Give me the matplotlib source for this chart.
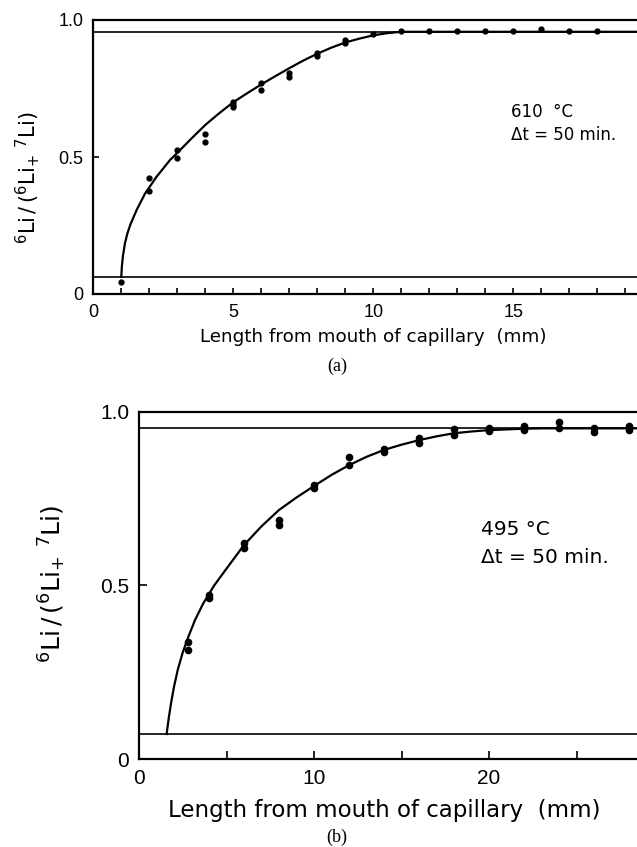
import matplotlib
matplotlib.use("Agg")
import matplotlib.pyplot as plt
from matplotlib.ticker import FixedLocator, MultipleLocator

plt.rcParams['font.family'] = ['Liberation Sans', 'DejaVu Sans']
plt.rcParams['mathtext.fontset'] = 'dejavusans'

# ---------------- Panel (a): 610 °C ----------------
a_points_x = [1, 2, 2, 3, 3, 4, 4, 5, 5, 5, 6, 6, 7, 7, 8, 8, 9, 9, 10,
              11, 12, 13, 14, 15, 16, 17, 18]
a_points_y = [0.045, 0.422, 0.376, 0.525, 0.495, 0.583, 0.556, 0.700, 0.690, 0.681,
              0.769, 0.745, 0.805, 0.792, 0.881, 0.869, 0.927, 0.915, 0.948,
              0.960, 0.959, 0.960, 0.960, 0.959, 0.966, 0.961, 0.961]
a_curve_x = [1.0, 1.02, 1.06, 1.13, 1.22, 1.33, 1.55, 1.85, 2.26, 2.74, 3.0, 3.5, 4.0,
             4.5, 5.0, 5.5, 6.0, 6.5, 7.0, 7.5, 8.0, 8.5, 9.0, 9.5, 10.0, 10.5, 11.0, 20.0]
a_curve_y = [0.063, 0.100, 0.140, 0.185, 0.222, 0.255, 0.307, 0.367, 0.428, 0.489,
             0.515, 0.567, 0.617, 0.660, 0.700, 0.733, 0.765, 0.795, 0.824, 0.852,
             0.877, 0.899, 0.918, 0.932, 0.944, 0.952, 0.957, 0.957]
a_levels = [0.957, 0.063]
a_xticks = [0, 5, 10, 15]
a_xticklabels = ['0', '5', '10', '15']
a_note = ['610  °C', 'Δt = 50 min.']

# ---------------- Panel (b): 495 °C ----------------
b_points_x = [2.8, 2.8, 4, 4, 6, 6, 8, 8, 10, 10, 12, 12, 14, 14, 16, 16, 18, 18,
              20, 20, 22, 22, 24, 24, 26, 26, 28, 28]
b_points_y = [0.338, 0.314, 0.472, 0.463, 0.621, 0.608, 0.688, 0.674, 0.789, 0.779,
              0.870, 0.846, 0.893, 0.883, 0.923, 0.909, 0.950, 0.933, 0.954, 0.944,
              0.959, 0.947, 0.969, 0.954, 0.954, 0.942, 0.960, 0.947]
b_curve_x = [1.58, 1.70, 1.83, 2.0, 2.21, 2.5, 2.82, 3.2, 3.67, 4.3, 5.0, 6, 7, 8, 9,
             10, 11, 12, 13, 14, 15, 16, 17, 18, 19, 20, 21, 22, 23, 30]
b_curve_y = [0.072, 0.118, 0.160, 0.208, 0.256, 0.307, 0.352, 0.400, 0.448, 0.500,
             0.548, 0.616, 0.670, 0.717, 0.753, 0.786, 0.818, 0.846, 0.870, 0.890,
             0.905, 0.918, 0.929, 0.938, 0.943, 0.947, 0.949, 0.951, 0.952, 0.952]
b_levels = [0.952, 0.072]
b_xticks = [0, 10, 20]
b_xticklabels = ['0', '10', '20']
b_note = ['495 °C', 'Δt = 50 min.']

yticks = [0, 0.5, 1.0]
yticklabels = ['0', '0.5', '1.0']
xlabel = 'Length from mouth of capillary  (mm)'
ylabel = r'$^{6}$Li$\,$/$\,$($^{6}$Li$_{+}$ $^{7}$Li)'

W, H = 637, 847
fig = plt.figure(figsize=(W / 100, H / 100), dpi=100)
label_font = ['DejaVu Sans']


def px_axes(left, bottom_px, right, top_px):
    return fig.add_axes([left / W, (H - bottom_px) / H, (right - left) / W,
                         (bottom_px - top_px) / H])


def style(ax, fs, minor_step, tick_len):
    for s in ['top', 'left', 'bottom']:
        ax.spines[s].set_linewidth(1.6)
    ax.spines['right'].set_visible(False)
    ax.set_ylim(0, 1.0)
    ax.yaxis.set_major_locator(FixedLocator(yticks))
    ax.set_yticklabels(yticklabels)
    ax.xaxis.set_minor_locator(MultipleLocator(minor_step))
    ax.tick_params(which='both', direction='in', width=1.2, labelsize=fs,
                   top=False, right=False)
    ax.tick_params(which='major', length=tick_len, pad=7)
    ax.tick_params(which='minor', length=tick_len)


# panel (a)
axa = px_axes(93.3, 294, 653.3, 20)
axa.set_xlim(0, 20)
style(axa, 13, 1, 4)
axa.set_xticks(a_xticks)
axa.set_xticklabels(a_xticklabels)
for lv in a_levels:
    axa.axhline(lv, color='black', lw=1.2)
axa.plot(a_curve_x, a_curve_y, color='black', lw=1.6)
axa.plot(a_points_x, a_points_y, 'o', color='black', ms=3.5)
axa.set_xlabel(xlabel, fontsize=13.2, family=label_font)
axa.xaxis.label.set_va('center')
axa.xaxis.set_label_coords(0.5, -0.157)
axa.set_ylabel(ylabel, fontsize=15, family=label_font)
axa.yaxis.label.set_va('center')
axa.yaxis.set_label_coords(-0.117, 0.423)
axa.text(0.746, 0.664, a_note[0], transform=axa.transAxes, fontsize=12,
         va='center', family=label_font)
axa.text(0.746, 0.580, a_note[1], transform=axa.transAxes, fontsize=12,
         va='center', family=label_font)
fig.text(337 / W, 1 - 366 / H, '(a)', family=['Liberation Serif', 'DejaVu Serif'],
         fontsize=13, ha='center', va='center')

# panel (b)
axb = px_axes(139, 759, 664, 411.7)
axb.set_xlim(0, 30)
style(axb, 15, 5, 6)
axb.set_xticks(b_xticks)
axb.set_xticklabels(b_xticklabels)
for lv in b_levels:
    axb.axhline(lv, color='black', lw=1.2)
axb.plot(b_curve_x, b_curve_y, color='black', lw=1.6)
axb.plot(b_points_x, b_points_y, 'o', color='black', ms=4.5)
axb.set_xlabel(xlabel, fontsize=16.5, family=label_font)
axb.xaxis.label.set_va('center')
axb.xaxis.set_label_coords(0.467, -0.147)
axb.set_ylabel(ylabel, fontsize=18, family=label_font)
axb.yaxis.label.set_va('center')
axb.yaxis.set_label_coords(-0.165, 0.504)
axb.text(0.651, 0.662, b_note[0], transform=axb.transAxes, fontsize=14.5,
         va='center', family=label_font)
axb.text(0.651, 0.579, b_note[1], transform=axb.transAxes, fontsize=14.5,
         va='center', family=label_font)
fig.text(337 / W, 1 - 837 / H, '(b)', family=['Liberation Serif', 'DejaVu Serif'],
         fontsize=13, ha='center', va='center')

fig.savefig('out.png', dpi=100)
